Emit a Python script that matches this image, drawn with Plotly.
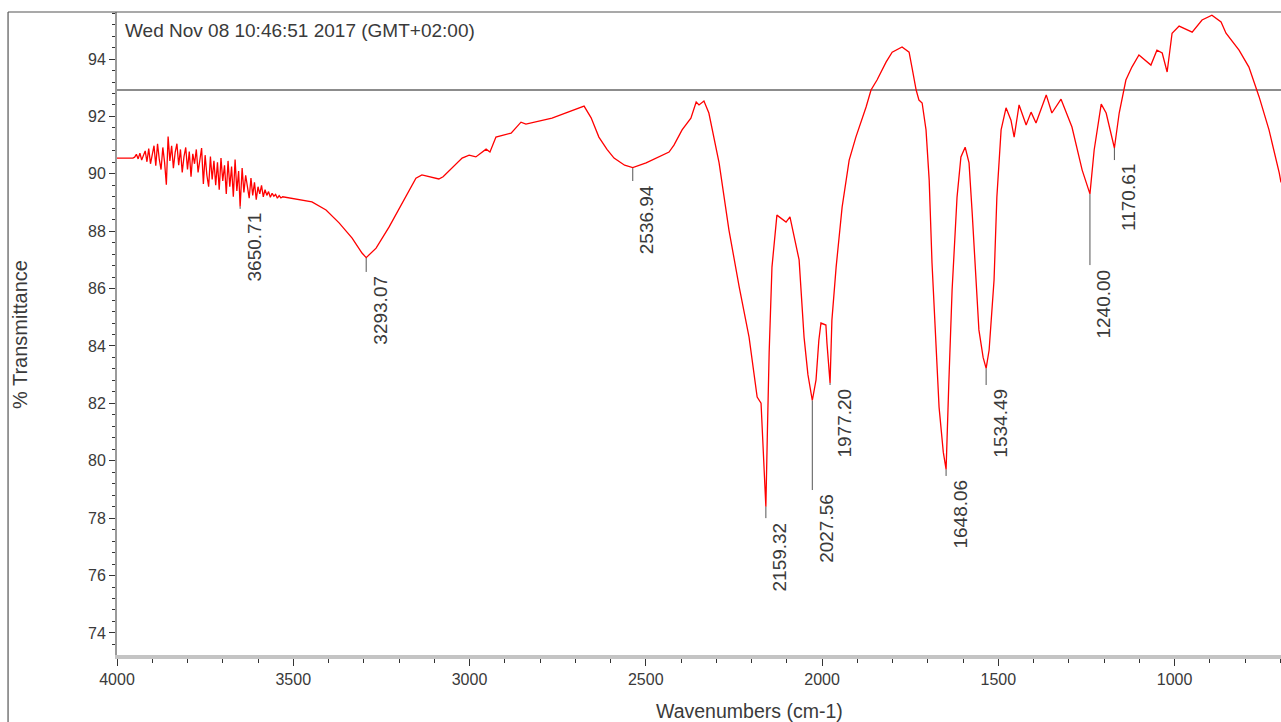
import plotly.graph_objects as go

# ---------------- data ----------------
wavenumber = [
    4000, 3955,
    3950, 3945, 3940, 3935, 3930, 3925, 3920, 3915, 3910, 3905, 3900, 3895, 3890, 3885, 3880,
    3875, 3870, 3865, 3860, 3855, 3850, 3845, 3840, 3835, 3830, 3825, 3820, 3815, 3810, 3805,
    3800, 3795, 3790, 3785, 3780, 3775, 3770, 3765, 3760, 3755, 3750, 3745, 3740, 3735, 3730,
    3725, 3720, 3715, 3710, 3705, 3700, 3695, 3690, 3685, 3680, 3675, 3670, 3665, 3660, 3655,
    3650.71, 3645, 3640, 3635, 3630, 3625, 3620, 3615, 3610, 3605, 3600, 3595, 3590, 3585, 3580,
    3575, 3570, 3565, 3560, 3555, 3550, 3545, 3540, 3535, 3530,
    3484, 3447, 3407, 3370, 3333, 3305, 3293.07, 3265, 3228, 3191, 3152, 3135, 3106, 3087, 3075,
    3021, 3001, 2982, 2953, 2942, 2925, 2882, 2854, 2840, 2766, 2675, 2655, 2633, 2610, 2590,
    2560, 2536.94, 2499, 2462, 2434, 2420, 2397, 2372, 2357, 2349, 2335, 2321, 2292, 2264, 2235,
    2207, 2184, 2173, 2165,
    2159.32, 2155, 2150, 2142, 2128, 2102, 2091, 2065, 2051, 2040, 2027.56, 2017, 2009, 2003,
    1989, 1986, 1977.20, 1972, 1960, 1943, 1923, 1904, 1875, 1861, 1844, 1818, 1801, 1773, 1753,
    1745, 1733, 1725, 1716, 1705, 1696, 1688, 1677, 1668, 1656, 1648.06, 1640, 1631, 1617, 1606,
    1594, 1583, 1574, 1563, 1555, 1543, 1534.49, 1526, 1512, 1504, 1492, 1478, 1464, 1455, 1441,
    1421, 1407, 1393, 1364, 1348, 1322, 1291, 1262, 1240.00, 1228, 1208, 1194, 1170.61, 1157,
    1138, 1121, 1101, 1067, 1050, 1035, 1021, 1007, 987, 950, 922, 894, 868, 854, 817, 789, 760,
    732, 703, 698,
]
transmittance = [
    90.55, 90.55,
    90.58, 90.68, 90.52, 90.72, 90.48, 90.62, 90.80, 90.42, 90.88, 90.35, 90.70, 90.98, 90.28, 91.05, 90.50,
    90.15, 90.92, 90.40, 89.62, 91.30, 90.45, 90.98, 90.20, 90.75, 91.05, 90.30, 90.85, 90.05, 90.60, 90.92,
    90.15, 90.78, 89.90, 90.70, 90.35, 90.85, 90.05, 90.55, 90.90, 89.65, 90.65, 89.95, 89.55, 90.60, 89.80,
    90.45, 89.60, 90.40, 89.45, 90.55, 89.75, 90.30, 89.30, 90.45, 89.55, 90.25, 89.20, 90.50, 89.40, 90.10,
    88.85, 90.20, 89.35, 89.95, 89.50, 89.15, 89.85, 89.25, 89.70, 89.10, 89.55, 89.30, 89.60, 89.20, 89.45,
    89.25, 89.38, 89.18, 89.32, 89.22, 89.28, 89.15, 89.24, 89.16, 89.20,
    89.10, 89.02, 88.74, 88.29, 87.76, 87.24, 87.08, 87.41, 88.15, 88.98, 89.85, 89.96, 89.88, 89.82, 89.90,
    90.55, 90.65, 90.59, 90.86, 90.76, 91.28, 91.42, 91.80, 91.73, 91.94, 92.36, 91.95, 91.28, 90.85, 90.55,
    90.30, 90.22, 90.38, 90.59, 90.76, 91.00, 91.53, 91.94, 92.50, 92.40, 92.54, 92.12, 90.38, 88.04, 86.06,
    84.31, 82.22, 82.01, 79.92,
    78.40, 81.00, 83.76, 86.75, 88.56, 88.32, 88.50, 87.00, 84.31, 83.00, 82.10, 82.82, 84.20, 84.80,
    84.73, 84.10, 82.71, 84.90, 86.75, 88.84, 90.48, 91.28, 92.33, 92.92, 93.27, 93.90, 94.24, 94.42, 94.24,
    93.72, 92.92, 92.57, 92.47, 91.53, 89.78, 86.89, 83.97, 81.87, 80.30, 79.70, 82.82, 85.95, 89.19, 90.59,
    90.93, 90.38, 88.63, 86.30, 84.56, 83.60, 83.22, 83.86, 86.30, 89.19, 91.53, 92.30, 91.87, 91.28, 92.40,
    91.70, 92.15, 91.77, 92.75, 92.12, 92.60, 91.63, 90.13, 89.30, 90.83, 92.43, 92.12, 90.90, 92.12,
    93.27, 93.72, 94.14, 93.79, 94.31, 94.21, 93.55, 94.90, 95.15, 94.94, 95.36, 95.53, 95.29, 94.90, 94.31, 93.72, 92.68,
    91.53, 90.03, 89.70,
]

# labelled peaks: position, marker line top/bottom (% T)
peak_labels = ["3650.71", "3293.07", "2536.94", "2159.32", "2027.56",
               "1977.20", "1648.06", "1534.49", "1240.00", "1170.61"]
peak_pos = [3650.71, 3293.07, 2536.94, 2159.32, 2027.56,
            1977.20, 1648.06, 1534.49, 1240.00, 1170.61]
peak_line_top = [88.85, 87.07, 90.20, 78.40, 82.10, 82.71, 79.70, 83.22, 89.30, 90.90]
peak_line_bottom = [88.78, 86.58, 89.75, 78.00, 78.98, 82.64, 79.47, 82.64, 86.82, 90.48]

reference_T = 92.92
x_range = [4000, 698]
y_range = [73.23, 95.64]
x_ticks = [4000, 3500, 3000, 2500, 2000, 1500, 1000]
y_ticks = [74, 76, 78, 80, 82, 84, 86, 88, 90, 92, 94]

timestamp = "Wed Nov 08 10:46:51 2017 (GMT+02:00)"
x_title = "Wavenumbers (cm-1)"
y_title = "% Transmittance"

FONT = "Liberation Sans, Arial, sans-serif"
TXT = "#3a3a3a"

# ---------------- figure ----------------
fig = go.Figure()

fig.add_trace(go.Scatter(
    x=[x_range[0], x_range[1]], y=[reference_T, reference_T], mode="lines",
    line=dict(color="#8c8c8c", width=2), hoverinfo="skip", showlegend=False))

fig.add_trace(go.Scatter(
    x=wavenumber, y=transmittance, mode="lines",
    line=dict(color="#ff0000", width=1.3), showlegend=False))

for lab, p, t0, t1 in zip(peak_labels, peak_pos, peak_line_top, peak_line_bottom):
    fig.add_trace(go.Scatter(x=[p, p], y=[t0, t1], mode="lines",
                             line=dict(color="#555555", width=1),
                             hoverinfo="skip", showlegend=False))
    fig.add_annotation(x=p, y=t1, text=lab, showarrow=False, textangle=-90,
                       xanchor="center", yanchor="top", xshift=14, yshift=-2,
                       font=dict(family=FONT, size=19, color=TXT))

fig.add_annotation(x=0.005, y=0.9705, xref="paper", yref="paper", text=timestamp,
                   showarrow=False, xanchor="left", yanchor="middle",
                   font=dict(family=FONT, size=19, color=TXT))
fig.add_annotation(x=0.5438, y=-0.087, xref="paper", yref="paper", text=x_title,
                   showarrow=False, xanchor="center", yanchor="middle",
                   font=dict(family=FONT, size=19.5, color=TXT))
fig.add_annotation(x=-0.0833, y=0.4977, xref="paper", yref="paper", text=y_title,
                   showarrow=False, xanchor="center", yanchor="middle", textangle=-90,
                   font=dict(family=FONT, size=20, color=TXT))

# outer frame lines (left and top)
fig.add_shape(type="line", xref="paper", yref="paper", x0=-0.0936, x1=1.01, y0=1.0, y1=1.0,
              line=dict(color="#555555", width=1.2))
fig.add_shape(type="line", xref="paper", yref="paper", x0=-0.0936, x1=-0.0936, y0=1.0, y1=-0.2,
              line=dict(color="#555555", width=1.2))

fig.update_xaxes(range=x_range, tickvals=x_ticks, ticks="outside", ticklen=7, tickwidth=1.2,
                 tickcolor="#333333", showline=True, linecolor="#c4c4c4", linewidth=4,
                 showgrid=False, zeroline=False,
                 minor=dict(dtick=100, ticks="outside", ticklen=4, tickcolor="#333333", showgrid=False),
                 tickfont=dict(family=FONT, size=16, color=TXT))
fig.update_yaxes(range=y_range, tickvals=y_ticks, ticks="outside", ticklen=6, tickwidth=1.2,
                 tickcolor="#333333", showline=True, linecolor="#9a9a9a", linewidth=2,
                 showgrid=False, zeroline=False,
                 minor=dict(dtick=0.4, tick0=74, ticks="outside", ticklen=3, tickcolor="#333333", showgrid=False),
                 tickfont=dict(family=FONT, size=16, color=TXT))

fig.update_layout(width=1281, height=722, margin=dict(l=117, r=0, t=12, b=67),
                  plot_bgcolor="white", paper_bgcolor="white", showlegend=False)

fig.write_html("out.html", config={"displayModeBar": False})
